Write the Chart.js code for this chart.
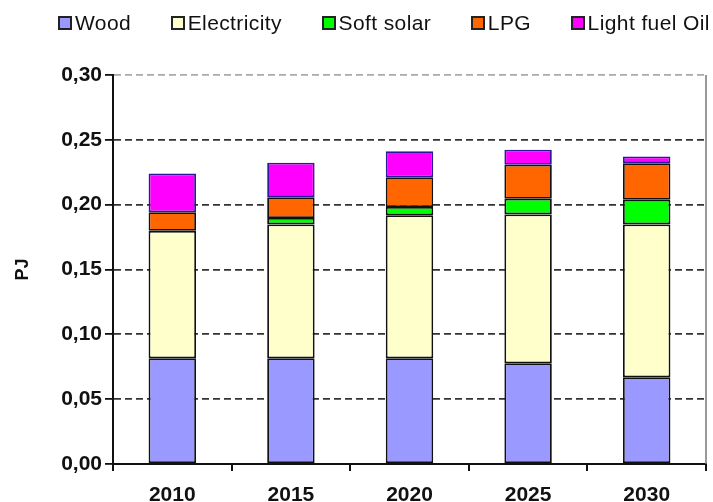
<!DOCTYPE html>
<html>
<head>
<meta charset="utf-8">
<script src="https://cdn.jsdelivr.net/npm/chart.js@4"></script>
<style>
  html, body { margin: 0; padding: 0; background: #fff; }
  #wrap { position: relative; width: 713px; height: 502px; overflow: hidden; }
  #legend {
    position: absolute; left: 58px; top: 11px; width: 652px;
    display: flex; justify-content: space-between; align-items: center;
    font-family: Arial, "Liberation Sans", sans-serif; font-size: 21px; color: #111;
    letter-spacing: 0.4px;
  }
  .legend-item { display: flex; align-items: center; white-space: nowrap; }
  .legend-box {
    width: 10px; height: 10px; border: 2px solid #222; margin-right: 3px;
  }
</style>
</head>
<body>
<div id="wrap">
  <div id="legend"></div>
  <canvas id="chart"></canvas>
</div>
<script>
// ==================== DATA ====================
const YEARS = ['2010', '2015', '2020', '2025', '2030'];
const WOOD = [0.0815, 0.0815, 0.0815, 0.0777, 0.0669];
const ELECTRICITY = [0.0983, 0.1033, 0.1103, 0.1148, 0.1179];
const SOFT_SOLAR = [0.0000, 0.0049, 0.0064, 0.0121, 0.0190];
const LPG = [0.0143, 0.0161, 0.0230, 0.0262, 0.0282];
const LIGHT_FUEL_OIL = [0.0300, 0.0265, 0.0200, 0.0115, 0.0052];
const Y_TICKS = [0, 0.05, 0.10, 0.15, 0.20, 0.25, 0.30];

const FONT = 'Arial, "Liberation Sans", sans-serif';

function series(label, data, color, border) {
    return {
        label,
        data,
        backgroundColor: color,
        borderColor: border || '#111',
        borderWidth: 1.8,
        borderSkipped: false,
        categoryPercentage: 1,
        barPercentage: 0.4
    };
}

// right edge of the plot area
const frame = {
    id: 'frame',
    afterDatasetsDraw(chart) {
        const { ctx, chartArea: a } = chart;
        ctx.save();
        ctx.strokeStyle = '#777';
        ctx.lineWidth = 1.5;
        ctx.beginPath();
        ctx.moveTo(a.right, a.top);
        ctx.lineTo(a.right, a.bottom);
        ctx.stroke();
        ctx.restore();
    }
};

const chart = new Chart(document.getElementById('chart'), {
    type: 'bar',
    data: {
        labels: YEARS,
        datasets: [
            series('Wood', WOOD, '#9999ff'),
            series('Electricity', ELECTRICITY, '#ffffcc'),
            series('Soft solar', SOFT_SOLAR, '#00ff00'),
            series('LPG', LPG, '#ff6600'),
            series('Light fuel Oil', LIGHT_FUEL_OIL, '#ff00ff', '#2a1a9a')
        ]
    },
    plugins: [frame],
    options: {
        responsive: true,
        maintainAspectRatio: false,
        animation: false,
        layout: { padding: { left: 12, right: 7, top: 75, bottom: 0 } },
        plugins: {
            legend: { display: false },
            tooltip: { enabled: false }
        },
        scales: {
            x: {
                stacked: true,
                offset: true,
                border: { color: '#111', width: 2 },
                grid: {
                    offset: true,
                    drawOnChartArea: false,
                    drawTicks: true,
                    tickLength: 7,
                    color: '#111',
                    lineWidth: 2
                },
                ticks: {
                    color: '#111',
                    font: { family: FONT, size: 21, weight: 'bold' },
                    padding: 12
                },
                afterFit(scale) { scale.height = 38; }
            },
            y: {
                stacked: true,
                min: 0,
                max: 0.30,
                afterBuildTicks(scale) {
                    scale.ticks = Y_TICKS.map(v => ({ value: v }));
                },
                border: { color: '#111', width: 2, dash: [7, 4] },
                grid: {
                    color: ctx => ctx.tick && ctx.tick.value >= 0.3 ? '#aaa' : '#333',
                    lineWidth: 1.8,
                    tickLength: 8,
                    tickColor: '#111',
                    tickBorderDash: []
                },
                ticks: {
                    color: '#111',
                    font: { family: FONT, size: 21, weight: 'bold' },
                    padding: 3,
                    callback: v => v.toFixed(2).replace('.', ',')
                },
                title: {
                    display: true,
                    text: 'PJ',
                    color: '#111',
                    font: { family: FONT, size: 18, weight: 'bold' },
                    padding: 0
                },
                afterFit(scale) { scale.width = 101; }
            }
        }
    }
});

function renderLegend() {
    const el = document.getElementById('legend');
    el.innerHTML = chart.data.datasets.map(ds => `<div class="legend-item">
        <span class="legend-box" style="background:${ds.backgroundColor}"></span>
        <span>${ds.label}</span>
    </div>`).join('');
}
renderLegend();
</script>
</body>
</html>
